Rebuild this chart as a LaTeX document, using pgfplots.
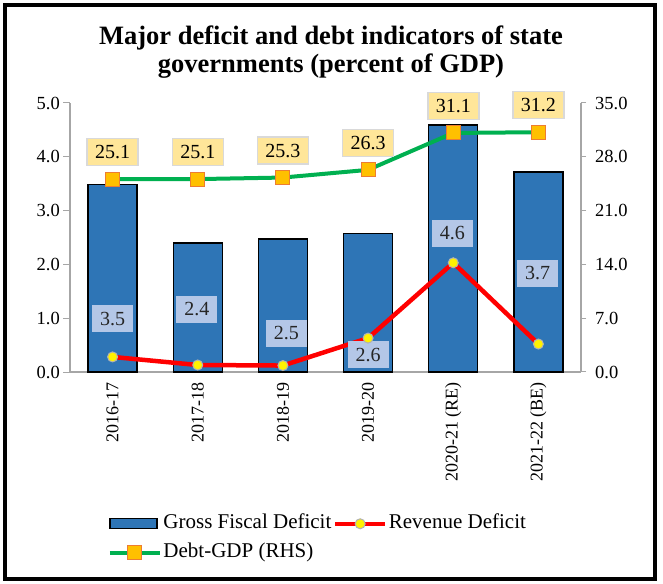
\documentclass[border=0pt]{standalone}
\usepackage{fontspec}
\setmainfont{Liberation Serif}
\usepackage{pgfplots}
\pgfplotsset{compat=1.18}
\definecolor{barblue}{HTML}{2E75B6}
\definecolor{lblue}{HTML}{B4C7E7}
\definecolor{lyellow}{HTML}{FFE699}
\definecolor{dgreen}{HTML}{00B050}
\definecolor{morange}{HTML}{FFC000}
\definecolor{morangeb}{HTML}{ED7D31}
\definecolor{axgray}{HTML}{A6A6A6}
\definecolor{lblgray}{HTML}{D9D9D9}
\begin{document}
\begin{tikzpicture}[x=1pt,y=1pt]
\useasboundingbox (-70,-211) rectangle (593,372);
\fill[white] (-70,-211) rectangle (593,372);
\draw[black, line width=4pt] (-65,-207) rectangle (585,367);
\node[font=\fontsize{26.5}{28.5}\selectfont\bfseries, align=center] at (261,320) {Major deficit and debt indicators of state\\governments (percent of GDP)};
\begin{axis}[
  at={(0,0)}, anchor=south west, scale only axis, width=511pt, height=269pt,
  xmin=-0.5, xmax=5.5, ymin=0, ymax=5, clip=false,
  axis x line*=bottom, axis y line*=left,
  axis line style={-, draw=axgray, line width=1.2pt},
  x axis line style={line width=2pt},
  xtick={0,...,5},
  xticklabels={2016-17,2017-18,2018-19,2019-20,2020-21 (RE),2021-22 (BE)},
  x tick style={draw=none},
  x tick label style={rotate=90, anchor=east, font=\rmfamily\fontsize{18}{20}\selectfont, inner sep=3pt},
  ytick={0,1,...,5},
  y tick style={draw=axgray, line width=1pt},
  tick align=outside, major tick length=7pt,
  yticklabel={\pgfmathprintnumber[fixed,fixed zerofill,precision=1,assume math mode=true]{\tick}},
  y tick label style={font=\rmfamily\fontsize{18.5}{20}\selectfont, inner sep=3pt},
  legend style={at={(0.068,-0.517)}, anchor=north west, legend columns=2, draw=none, fill=none,
    font=\rmfamily\fontsize{21}{24}\selectfont, row sep=8pt,
    nodes={inner sep=1.5pt, text height=14pt, text depth=4pt}},
  legend cell align=left,
]
\addplot[ybar, bar width=49pt, fill=barblue, draw=black, line width=1.3pt,
  legend image code/.code={\draw[fill=barblue,draw=black,line width=1.3pt] (0pt,-5pt) rectangle (47pt,5pt);}]
  coordinates {(0,3.48)(1,2.40)(2,2.47)(3,2.58)(4,4.59)(5,3.72)};
\addlegendentry{Gross Fiscal Deficit}
\addplot[red, line width=4.5pt, mark=*, mark size=5pt, mark options={fill=yellow, draw=gray!60, line width=1pt},
  legend image code/.code={\draw[mark repeat=2,mark phase=2] plot coordinates {(0pt,0pt)(25pt,0pt)(50pt,0pt)};}]
  coordinates {(0,0.28)(1,0.13)(2,0.12)(3,0.63)(4,2.03)(5,0.52)};
\addlegendentry{Revenue Deficit}
\addlegendimage{dgreen, line width=4pt, mark=square*, mark size=7pt, mark options={fill=morange, draw=morangeb, line width=1pt},
  legend image code/.code={\draw[mark repeat=2,mark phase=2] plot coordinates {(0pt,0pt)(25pt,0pt)(50pt,0pt)};}}
\addlegendentry{Debt-GDP (RHS)}
\tikzset{glabel/.style={fill=lblue, text=black!85, inner xsep=8pt, inner ysep=0pt, minimum height=27pt, font=\rmfamily\fontsize{20}{22}\selectfont, anchor=center}}
\node[glabel] at (axis cs:0,0.99) {3.5};
\node[glabel] at (axis cs:0.99,1.17) {2.4};
\node[glabel] at (axis cs:2.04,0.72) {2.5};
\node[glabel] at (axis cs:3,0.32) {2.6};
\node[glabel] at (axis cs:3.99,2.58) {4.6};
\node[glabel] at (axis cs:4.99,1.84) {3.7};
\end{axis}
\begin{axis}[
  at={(0,0)}, anchor=south west, scale only axis, width=511pt, height=269pt,
  xmin=-0.5, xmax=5.5, ymin=0, ymax=35, clip=false,
  hide x axis, axis y line*=right,
  axis line style={-, draw=axgray, line width=1.2pt},
  ytick={0,7,14,21,28,35},
  y tick style={draw=axgray, line width=1pt},
  tick align=outside, major tick length=5pt,
  yticklabel={\pgfmathprintnumber[fixed,fixed zerofill,precision=1,assume math mode=true]{\tick}},
  y tick label style={font=\rmfamily\fontsize{18.5}{20}\selectfont, inner sep=3pt, xshift=6pt},
]
\addplot[dgreen, line width=4pt, mark=square*, mark size=7pt, mark options={fill=morange, draw=morangeb, line width=1pt},
  nodes near coords={\pgfmathprintnumber[fixed,fixed zerofill,precision=1,assume math mode=true]{\pgfplotspointmeta}},
  every node near coord/.append style={anchor=center, yshift=27pt, fill=lyellow, draw=lblgray, line width=1.5pt, text=black, inner xsep=8pt, inner ysep=0pt, minimum height=27pt, font=\rmfamily\fontsize{20}{22}\selectfont}]
  coordinates {(0,25.1)(1,25.1)(2,25.3)(3,26.3)(4,31.1)(5,31.2)};
\end{axis}
\end{tikzpicture}
\end{document}
